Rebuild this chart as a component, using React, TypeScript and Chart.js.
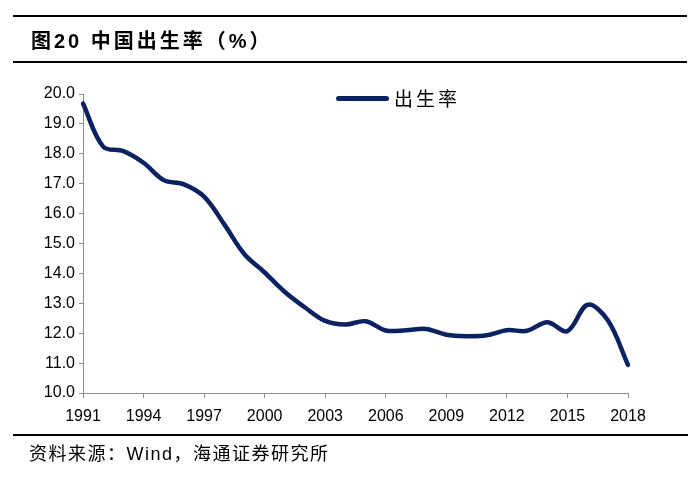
import React, { useEffect, useRef } from "react";
import { Chart, registerables } from "chart.js";

Chart.register(...registerables);

const years: string[] = [
  "1991", "1992", "1993", "1994", "1995", "1996", "1997", "1998", "1999", "2000",
  "2001", "2002", "2003", "2004", "2005", "2006", "2007", "2008", "2009", "2010",
  "2011", "2012", "2013", "2014", "2015", "2016", "2017", "2018",
];
const birthRate: number[] = [
  19.68, 18.24, 18.09, 17.7, 17.12, 16.98, 16.57, 15.64, 14.64, 14.03,
  13.38, 12.86, 12.41, 12.29, 12.4, 12.09, 12.1, 12.14, 11.95, 11.9,
  11.93, 12.1, 12.08, 12.37, 12.07, 12.95, 12.43, 10.94,
];
const seriesName = "出生率";
const titleText = "图20 中国出生率（%）";
const sourceText = "资料来源：Wind，海通证券研究所";

const LINE_COLOR = "#0b2262";
const AXIS_COLOR = "#8c8c8c";
const TICK_FONT = { family: "'Liberation Sans', Arial, sans-serif", size: 16 };

export default function App() {
  const canvasRef = useRef<HTMLCanvasElement | null>(null);

  useEffect(() => {
    if (!canvasRef.current) return;
    const chart = new Chart(canvasRef.current, {
      type: "line",
      data: {
        labels: years,
        datasets: [
          {
            label: seriesName,
            data: birthRate,
            borderColor: LINE_COLOR,
            backgroundColor: LINE_COLOR,
            borderWidth: 4.5,
            pointRadius: 0,
            tension: 0.35,
            borderCapStyle: "round",
            borderJoinStyle: "round",
            fill: false,
          },
        ],
      },
      options: {
        animation: false,
        responsive: false,
        maintainAspectRatio: false,
        layout: { padding: { left: 0, right: 72, top: 94, bottom: 57 } },
        plugins: {
          legend: { display: false },
          tooltip: { enabled: false },
        },
        scales: {
          x: {
            type: "category",
            offset: false,
            grid: {
              drawOnChartArea: false,
              drawTicks: true,
              tickLength: 5,
              color: AXIS_COLOR,
            },
            border: { color: AXIS_COLOR, width: 1 },
            ticks: {
              autoSkip: false,
              maxRotation: 0,
              color: "#000",
              font: TICK_FONT,
              padding: 9,
              callback: (_v: any, i: number) => (i % 3 === 0 ? years[i] : null),
            },
            afterFit: (scale: any) => {
              scale.height = 30;
            },
          },
          y: {
            min: 10,
            max: 20,
            grid: {
              drawOnChartArea: false,
              drawTicks: true,
              tickLength: 4,
              color: AXIS_COLOR,
            },
            border: { color: AXIS_COLOR, width: 1 },
            ticks: {
              stepSize: 1,
              color: "#000",
              font: TICK_FONT,
              padding: 4,
              callback: (v: any) => Number(v).toFixed(1),
            },
            afterFit: (scale: any) => {
              scale.width = 83;
            },
          },
        },
      },
    });
    return () => chart.destroy();
  }, []);

  return (
    <div
      style={{
        position: "fixed",
        left: 0,
        top: 0,
        width: 700,
        height: 480,
        background: "#fff",
        fontFamily: "'Liberation Sans', 'Noto Sans CJK SC', sans-serif",
      }}
    >
      <canvas
        ref={canvasRef}
        width={700}
        height={480}
        style={{ position: "absolute", left: 0, top: 0, width: 700, height: 480 }}
      />
      <div style={{ position: "absolute", left: 13, top: 15, width: 674, height: 0, borderTop: "2px solid #000" }} />
      <div
        style={{
          position: "absolute",
          left: 31,
          top: 28,
          fontSize: 20,
          fontWeight: "bold",
          letterSpacing: 3,
          whiteSpace: "nowrap",
          lineHeight: "26px",
          fontFamily: "'Liberation Sans', 'Noto Sans CJK SC', sans-serif",
        }}
      >
        {titleText}
      </div>
      <div style={{ position: "absolute", left: 13, top: 61, width: 674, height: 0, borderTop: "2px solid #000" }} />
      <div style={{ position: "absolute", left: 336, top: 96, width: 53, height: 5, background: LINE_COLOR, borderRadius: 3 }} />
      <div
        style={{
          position: "absolute",
          left: 394,
          top: 86,
          fontSize: 19,
          lineHeight: "24px",
          letterSpacing: 3,
          whiteSpace: "nowrap",
          fontFamily: "'Noto Sans CJK SC', sans-serif",
        }}
      >
        {seriesName}
      </div>
      <div style={{ position: "absolute", left: 13, top: 434, width: 675, height: 0, borderTop: "2px solid #000" }} />
      <div
        style={{
          position: "absolute",
          left: 29,
          top: 443,
          fontSize: 18,
          lineHeight: "22px",
          letterSpacing: 1.5,
          whiteSpace: "nowrap",
          fontFamily: "'Liberation Sans', 'Noto Sans CJK SC', sans-serif",
        }}
      >
        {sourceText}
      </div>
    </div>
  );
}
